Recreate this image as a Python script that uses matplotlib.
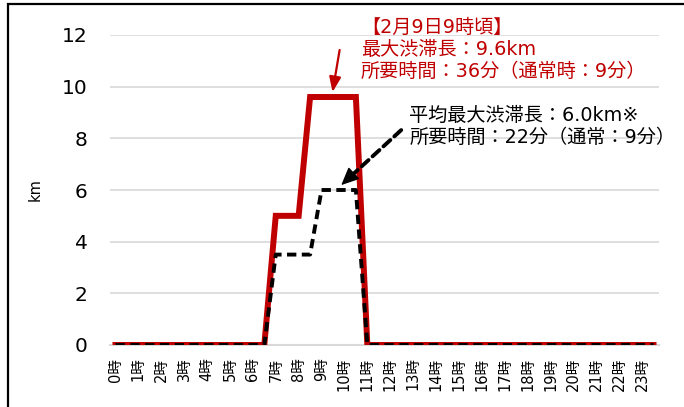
import matplotlib
matplotlib.use("Agg")
import matplotlib.pyplot as plt
from matplotlib.patches import Rectangle
import numpy as np

# time of day in hours (half-hour steps)
times = [0.0, 0.5, 1.0, 1.5, 2.0, 2.5, 3.0, 3.5, 4.0, 4.5, 5.0, 5.5,
         6.0, 6.5, 7.0, 7.5, 8.0, 8.5, 9.0, 9.5, 10.0, 10.5, 11.0, 11.5,
         12.0, 12.5, 13.0, 13.5, 14.0, 14.5, 15.0, 15.5, 16.0, 16.5, 17.0, 17.5,
         18.0, 18.5, 19.0, 19.5, 20.0, 20.5, 21.0, 21.5, 22.0, 22.5, 23.0, 23.5]
# Feb 9 congestion length (km)
feb9_km = [0, 0, 0, 0, 0, 0, 0, 0, 0, 0, 0, 0,
           0, 0, 5.0, 5.0, 5.0, 9.6, 9.6, 9.6, 9.6, 9.6, 0, 0,
           0, 0, 0, 0, 0, 0, 0, 0, 0, 0, 0, 0,
           0, 0, 0, 0, 0, 0, 0, 0, 0, 0, 0, 0]
# average max congestion length (km)
avg_km = [0, 0, 0, 0, 0, 0, 0, 0, 0, 0, 0, 0,
          0, 0, 3.5, 3.5, 3.5, 3.5, 6.0, 6.0, 6.0, 6.0, 0, 0,
          0, 0, 0, 0, 0, 0, 0, 0, 0, 0, 0, 0,
          0, 0, 0, 0, 0, 0, 0, 0, 0, 0, 0, 0]
hour_ticks = list(range(24))
hour_labels = ["0時", "1時", "2時", "3時", "4時", "5時", "6時", "7時", "8時", "9時",
               "10時", "11時", "12時", "13時", "14時", "15時", "16時", "17時",
               "18時", "19時", "20時", "21時", "22時", "23時"]
y_ticks = [0, 2, 4, 6, 8, 10, 12]

RED = "#C00000"
JP = ["DejaVu Sans", "Noto Sans CJK JP"]

fig = plt.figure(figsize=(6.84, 4.07), dpi=100)
ax = fig.add_axes([110/684, 1-345/407, (659-110)/684, (345-35)/407])

# frame around chart
fig.patches.append(Rectangle((8/684, -0.1), 1.2, (407-4)/407 + 0.1, transform=fig.transFigure,
                             fill=False, edgecolor="black", linewidth=1.6, zorder=0))

ax.plot(times, feb9_km, color=RED, linewidth=4.3, solid_joinstyle="miter", zorder=3)
ax.plot(times, avg_km, color="black", linewidth=2.8, dashes=(2.4, 1.4), zorder=4)

ax.set_xlim(-0.24, 23.74)
ax.set_ylim(0, 12)
ax.set_yticks(y_ticks)
ax.set_yticklabels([str(v) for v in y_ticks], fontsize=14.5, family="DejaVu Sans")
ax.set_xticks(hour_ticks)
ax.set_xticklabels(hour_labels, rotation=90, fontsize=10.5, family=JP)
ax.tick_params(axis="y", length=0, pad=16)
ax.tick_params(axis="x", length=0, pad=9)
for s in ["top", "right", "left"]:
    ax.spines[s].set_visible(False)
ax.spines["bottom"].set_color("#d9d9d9")
ax.spines["bottom"].set_linewidth(1.5)
ax.grid(axis="y", color="#d9d9d9", linewidth=1.2)
ax.set_axisbelow(True)
ax.set_ylabel("km", fontsize=10.5, labelpad=14)

# red annotation
ax.annotate("", xy=(9.48, 9.79), xytext=(9.79, 11.42),
            arrowprops=dict(arrowstyle="-|>,head_length=0.9,head_width=0.35", color=RED, lw=1.6,
                            shrinkA=0, shrinkB=0), annotation_clip=False, zorder=5)
ax.text(10.72, 12.68, "【2月9日9時頃】\n最大渋滞長：9.6km\n所要時間：36分（通常時：9分）",
        color=RED, fontsize=13.8, family=JP, va="top", ha="left", linespacing=1.22,
        clip_on=False)

# black annotation: dashed shaft + solid head
ax.annotate("", xy=(10.34, 6.58), xytext=(12.48, 8.32),
            arrowprops=dict(arrowstyle="-", color="black", lw=2.8,
                            linestyle=(0, (2.4, 1.4)), shrinkA=0, shrinkB=0),
            annotation_clip=False, zorder=5)
ax.annotate("", xy=(9.86, 6.19), xytext=(10.5, 6.72),
            arrowprops=dict(arrowstyle="-|>,head_length=1.1,head_width=0.5", color="black", lw=1.0,
                            shrinkA=0, shrinkB=0),
            annotation_clip=False, zorder=5)
ax.text(12.84, 9.27, "平均最大渋滞長：6.0km※\n所要時間：22分（通常：9分）",
        color="black", fontsize=13.8, family=JP, va="top", ha="left", linespacing=1.22)

fig.savefig("out.png", dpi=100)
